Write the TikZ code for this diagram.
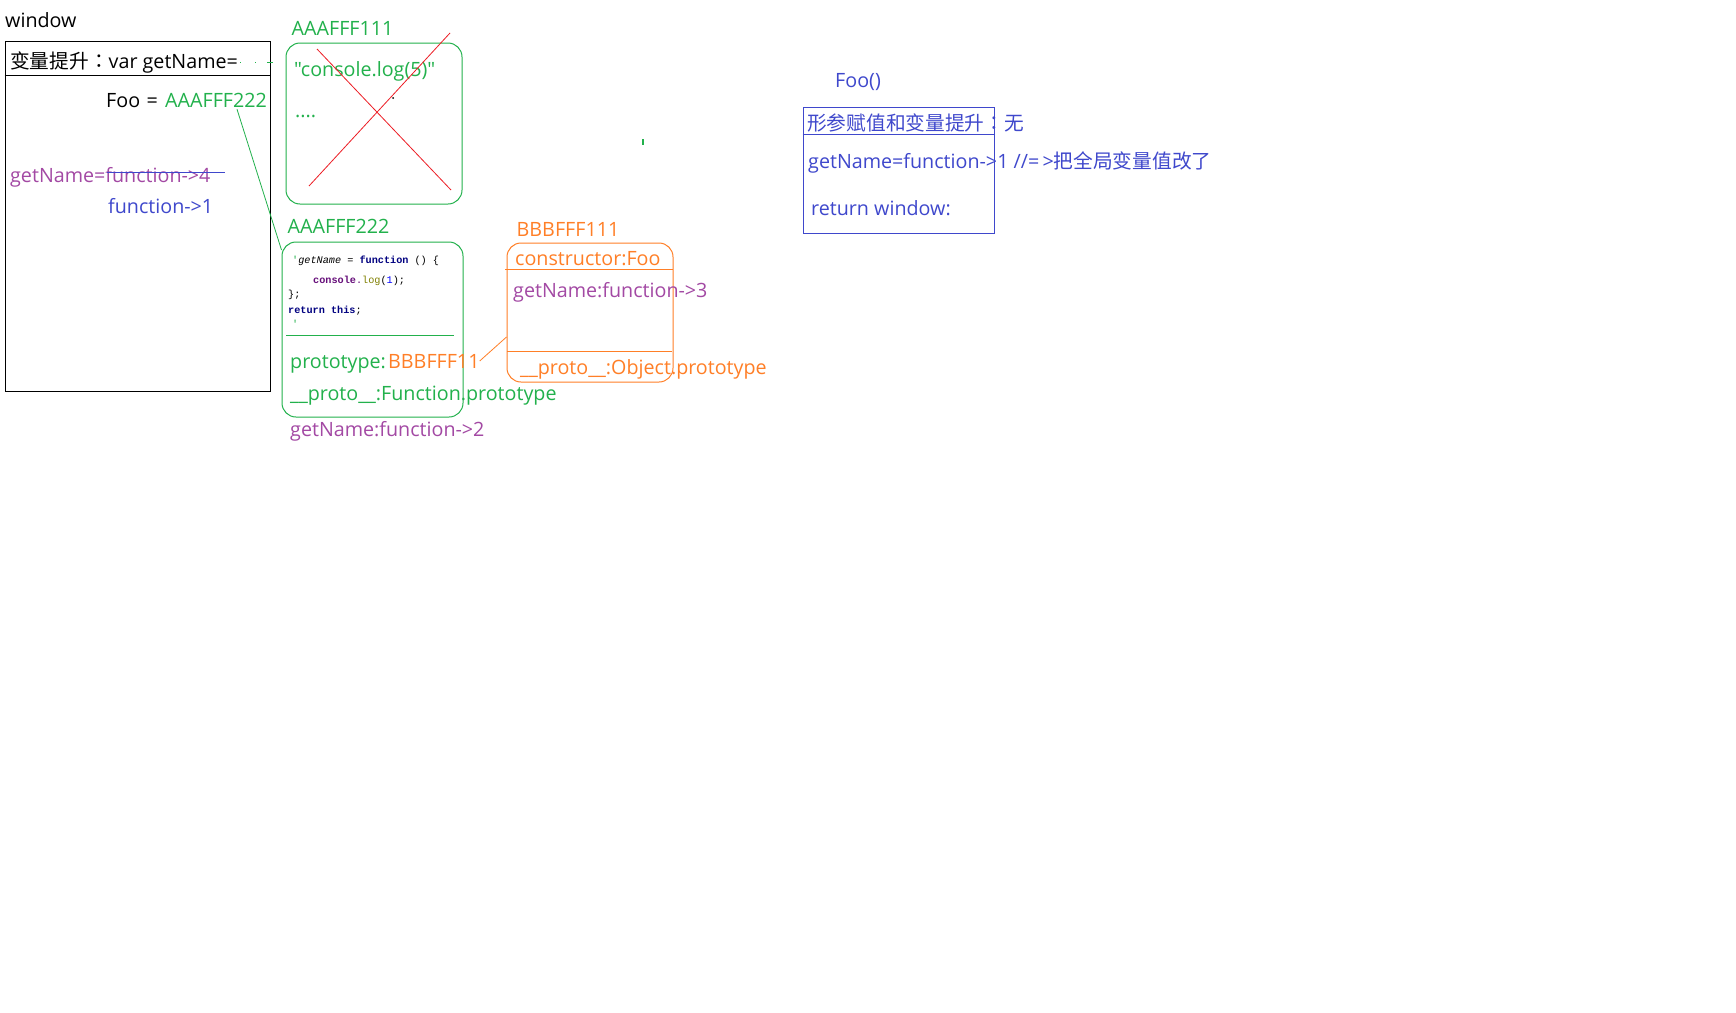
\documentclass[tikz,border=0pt]{standalone}
\usepackage{fontspec}
\setmainfont{Open Sans}[Ligatures=TeXOff]
\setmonofont{Liberation Mono}
\newfontfamily\cjk{Noto Sans CJK SC}
\newfontfamily\cjkpunct{Noto Sans CJK TC}
\usetikzlibrary{positioning}

\definecolor{pgreen}{RGB}{34,177,76}
\definecolor{porange}{RGB}{255,127,39}
\definecolor{ppurple}{RGB}{163,73,164}
\definecolor{pblue}{RGB}{63,72,204}
\definecolor{pred}{RGB}{237,28,36}
\definecolor{codenavy}{RGB}{0,0,128}
\definecolor{codepurple}{RGB}{102,14,122}
\definecolor{codeolive}{RGB}{128,128,0}

\newcommand\memfont{\fontsize{19.7}{24}\selectfont}
\newcommand\kw[1]{{\bfseries\color{codenavy}#1}}
\newcommand\cjkcolon{{\cjkpunct ：}}

\tikzset{
  % boxes of the memory picture
  scope box/.style = {
    draw = black,
    line width = 1pt,
    inner sep = 0
  },
  heap box/.style = {
    scope box,
    rounded corners = 14pt
  },
  fn box/.style = {
    heap box,
    draw = pgreen
  },
  obj box/.style = {
    heap box,
    draw = porange
  },
  call box/.style = {
    scope box,
    draw = pblue
  },
  % text lines
  txt/.style = {
    inner sep = 0,
    anchor = base west,
    font = \memfont
  },
  code/.style = {
    inner sep = 0,
    anchor = base west,
    font = \ttfamily\fontsize{10.2}{12}\selectfont
  },
  link/.style = {
    line width = 0.8pt
  },
  cross/.style = {
    draw = pred,
    line width = 0.8pt
  }
}

\begin{document}
\begin{tikzpicture}[x=1pt, y=-1pt]
    \fill[white] (0,0) rectangle (1736,1012);
    \useasboundingbox (0,0) rectangle (1736,1012);

    % global scope
    \node[scope box, minimum width=265pt, minimum height=350pt] (window) at (137.5,216) {};
    \node[txt] (window-lbl) at (5,27) {window};
    \draw[line width=1pt] (window.west |- 0,75) -- (window.east |- 0,75);
    \node[txt] (hoist) at (10,68) {{\cjk 变量提升}\cjkcolon var getName=};
    \node[txt] (foo-lbl) at (106,107) {Foo\,\,=};
    \node[txt, text=pgreen] (fooaddr) at (165,107) {AAAFFF222};
    \node[txt, text=ppurple] (getname4) at (10,182) {getName=function->4};
    \node[txt, text=pblue] (getname1) at (108,213) {function->1};
    \draw[pblue, line width=1pt] (107,172) -- (225,172);

    % heap: AAAFFF111
    \node[fn box, minimum width=176pt, minimum height=161pt] (fn111) at (374,123.5) {};
    \node[txt, text=pgreen] (fn111-lbl) [above right=7pt and 6pt of fn111.north west] {AAAFFF111};
    \node[txt, text=pgreen] (fn111-body) at (294,76) {"console.log(5)"};
    \node[txt, text=pgreen] (fn111-dots) at (295,117) {....};
    \draw[cross] (317,49) -- (451,190);
    \draw[cross] (450,33) -- (309,186);
    \fill (393,98) circle (1pt);

    % heap: AAAFFF222
    \node[fn box, minimum width=181pt, minimum height=175pt] (fn222) at (372.5,329.5) {};
    \node[txt, text=pgreen] (fn222-lbl) [above right=8pt and 6pt of fn222.north west] {AAAFFF222};
    \node[code] (code1) at (292,263) {{\color{pgreen}'}\textit{getName} = \kw{function} () \{};
    \node[code] (code2) at (313,283) {{\bfseries\color{codepurple}console}{\color{codepurple}.}{\color{codeolive}log}({\color{blue}1});};
    \node[code] (code3) at (288,297) {\};};
    \node[code] (code4) at (288,313) {\kw{return} \kw{this};};
    \node[code, text=pgreen] (code5) at (292,327) {'};
    \draw[pgreen, line width=1pt] (286,335) -- (454,335);
    \node[txt, text=pgreen] (prototype) at (290,368) {prototype:};
    \node[txt, text=porange] (protoval) at (388,368) {BBBFFF11};
    \node[txt, text=pgreen] (fnproto) at (290,400) {\_\_proto\_\_:Function.prototype};
    \node[txt, text=ppurple] (getname2) at (290,436) {getName:function->2};

    % heap: BBBFFF111
    \node[obj box, minimum width=166pt, minimum height=139pt] (proto) at (590,312.5) {};
    \node[txt, text=porange] (proto-lbl) [above right=6pt and 10pt of proto.north west] {BBBFFF111};
    \node[txt, text=porange] (ctor) at (515,265) {constructor:Foo};
    \draw[porange, line width=1pt] (505,269) -- (673,269);
    \node[txt, text=ppurple] (getname3) at (513,297) {getName:function->3};
    \draw[porange, line width=1pt] (507,351) -- (672,351);
    \node[txt, text=porange] (objproto) at (520,374) {\_\_proto\_\_:Object.prototype};

    % call of Foo()
    \node[txt, text=pblue] (foocall-lbl) at (835,87) {Foo()};
    \node[call box, minimum width=191pt, minimum height=126pt] (foocall) at (898.5,170) {};
    \draw[pblue, line width=1pt] (foocall.west |- 0,134) -- (foocall.east |- 0,134);
    \node[txt, text=pblue] (params) at (807,130) {{\cjk 形参赋值和变量提升}\cjkcolon{\cjk 无}};
    \node[txt, text=pblue] (assign) at (808,168) {getName=function->1 //=\,>{\cjk 把全局变量值改了}};
    \node[txt, text=pblue] (ret) at (811,215) {return window:};

    % references
    \coordinate[below right=2pt and 72pt of fooaddr.south west] (foo ref);
    \coordinate (fn222 in) at (fn222.west |- 0,250);
    \draw[link, pgreen] (foo ref) -- (fn222 in);
    \draw[link, porange] (protoval.east) -- (proto.west |- 0,337);
    \coordinate (hoist end) at (273,62);
    \draw[pgreen, line width=1pt, dash pattern=on 1pt off 14pt on 1pt off 11pt on 6pt off 1pt] (240,62) -- (hoist end);
    \draw[pgreen, line width=1.5pt] (643,139) -- (643,145);
\end{tikzpicture}
\end{document}
